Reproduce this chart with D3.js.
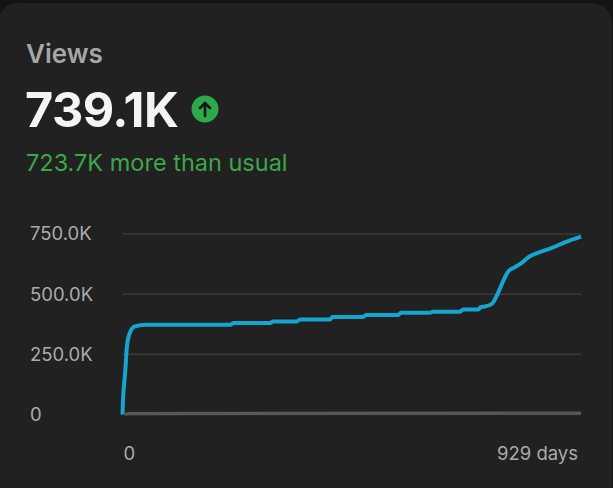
<!DOCTYPE html>
<html>
<head>
<meta charset="utf-8">
<script src="https://cdn.jsdelivr.net/npm/d3@7"></script>
<style>
  html, body { margin: 0; padding: 0; background: #141414; }
  svg { display: block; }
</style>
</head>
<body>
<div id="chart"></div>
<script>
const W = 613, H = 488;

// cumulative views: [day, views]
const viewDays = [0, 1, 3, 5, 9, 15, 25, 46, 220, 224, 299, 305, 352, 360, 420, 426, 487, 493, 558, 564, 623, 629, 684, 690, 720, 726, 734, 748, 761, 771, 782, 795, 809, 822, 842, 870, 897, 929];
const viewValues = [0, 60000, 120000, 165000, 283000, 340000, 366000, 373000, 373000, 380000, 380000, 386000, 386000, 395000, 395000, 405000, 405000, 413000, 413000, 423000, 423000, 427000, 427000, 436000, 436000, 446000, 449000, 459000, 505000, 553000, 595000, 612000, 630000, 653000, 672000, 692000, 716000, 739100];

// typical ("usual") series
const usualDays = [5, 12, 929];
const usualValues = [0, 4000, 6000];

const yTicks = [0, 250000, 500000, 750000];
const xTickLabels = ["0", "929 days"];

const title = "Views";
const total = "739.1K";
const delta = "723.7K more than usual";

const margin = { top: 234, right: 32, bottom: 73.5, left: 122.5 };
const width = W - margin.left - margin.right;
const height = H - margin.top - margin.bottom;

const svg = d3.select("#chart").append("svg")
  .attr("width", W)
  .attr("height", H);

// card
svg.append("rect")
  .attr("x", -2).attr("y", 3)
  .attr("width", W + 1).attr("height", H + 20)
  .attr("rx", 20)
  .attr("fill", "#212121");

const font = "Inter, 'Noto Sans', sans-serif";

svg.append("text")
  .attr("x", 26).attr("y", 63)
  .attr("font-family", font).attr("font-size", 26).attr("font-weight", 600)
  .attr("fill", "#a6a6a6")
  .text(title);

svg.append("text")
  .attr("x", 25).attr("y", 127)
  .attr("font-family", font).attr("font-size", 48.5).attr("font-weight", 700)
  .attr("fill", "#f4f4f4")
  .attr("letter-spacing", -0.5)
  .text(total);

// up badge
const badge = svg.append("g").attr("transform", "translate(205,109)");
badge.append("circle").attr("r", 13.5).attr("fill", "#2ea84a");
badge.append("path")
  .attr("d", "M0,7 L0,-6 M-5,-1 L0,-6 L5,-1")
  .attr("fill", "none").attr("stroke", "#161616")
  .attr("stroke-width", 2.6).attr("stroke-linecap", "round").attr("stroke-linejoin", "round");

svg.append("text")
  .attr("x", 26).attr("y", 171)
  .attr("font-family", font).attr("font-size", 23.5).attr("font-weight", 400)
  .attr("fill", "#3aa84a")
  .text(delta);

const g = svg.append("g")
  .attr("transform", `translate(${margin.left},${margin.top})`);

const x = d3.scaleLinear().domain([0, 929]).range([0, width]);
const y = d3.scaleLinear().domain([0, 750000]).range([height, 0]);

const fmt = v => v === 0 ? "0" : d3.format(".1f")(v / 1000) + "K";

// grid
g.selectAll(".grid")
  .data(yTicks)
  .enter().append("line")
  .attr("x1", 0).attr("x2", width)
  .attr("y1", d => y(d)).attr("y2", d => y(d))
  .attr("stroke", "#3a3a3a").attr("stroke-width", 1.5);

// y labels
g.selectAll(".ylab")
  .data(yTicks)
  .enter().append("text")
  .attr("x", -92.5).attr("y", d => y(d))
  .attr("dy", "0.35em")
  .attr("font-family", font).attr("font-size", 18.5)
  .attr("fill", "#ababab")
  .text(fmt);

// x labels
g.append("text")
  .attr("x", x(0) + 1).attr("y", height + 45)
  .attr("font-family", font).attr("font-size", 18.5)
  .attr("fill", "#ababab")
  .text(xTickLabels[0]);
g.append("text")
  .attr("x", x(929) - 3).attr("y", height + 45)
  .attr("text-anchor", "end")
  .attr("font-family", font).attr("font-size", 18.5)
  .attr("fill", "#ababab")
  .text(xTickLabels[1]);

const line = d3.line()
  .x(d => x(d[0]))
  .y(d => y(d[1]));

const usual = usualDays.map((d, i) => [d, usualValues[i]]);
g.append("path")
  .datum(usual)
  .attr("d", line)
  .attr("fill", "none")
  .attr("stroke", "#585858")
  .attr("stroke-width", 3.2);

const views = viewDays.map((d, i) => [d, viewValues[i]]);
g.append("path")
  .datum(views)
  .attr("d", line.curve(d3.curveMonotoneX))
  .attr("fill", "none")
  .attr("stroke", "#14a6d0")
  .attr("stroke-width", 4)
  .attr("stroke-linejoin", "round");
</script>
</body>
</html>
